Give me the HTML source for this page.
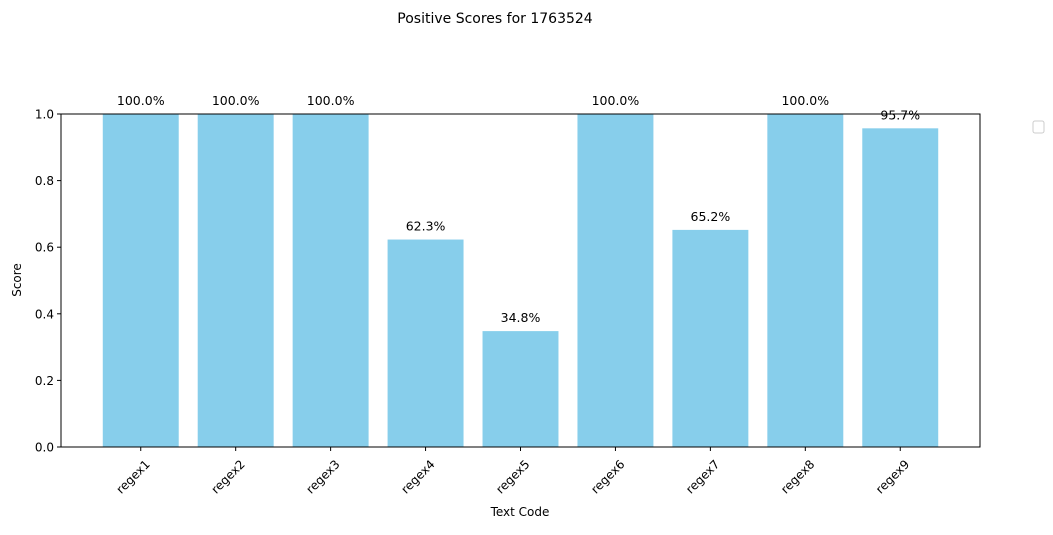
<!DOCTYPE html>
<html><head><meta charset="utf-8"><style>
body{margin:0;background:#fff;}
svg text{font-family:"DejaVu Sans","Liberation Sans",sans-serif;}
</style></head><body>
<svg id="chart" width="1053" height="530" xmlns="http://www.w3.org/2000/svg">
<text x="495" y="23" font-size="14" text-anchor="middle">Positive Scores for 1763524</text>
<g id="bars"></g>
<g id="axes"></g>
<rect x="1033" y="121" width="11" height="12" rx="2" fill="#fff" stroke="#ccc"/>
<text x="520" y="516" font-size="12" text-anchor="middle">Text Code</text>
<text transform="translate(21,280) rotate(-90)" font-size="12" text-anchor="middle">Score</text>
</svg>
<script>
const categories=["regex1","regex2","regex3","regex4","regex5","regex6","regex7","regex8","regex9"];
const scores=[1.0,1.0,1.0,0.623,0.348,1.0,0.652,1.0,0.957];
const yTicks=[0.0,0.2,0.4,0.6,0.8,1.0];
const NS="http://www.w3.org/2000/svg";
const L=61,R=980,T=114,B=447;
const xmin=-0.84,xmax=categories.length-1+0.84;
function xs(i){return L+(i-xmin)/(xmax-xmin)*(R-L);}
function ys(v){return B-v*(B-T);}
const unit=(R-L)/(xmax-xmin);
function mk(tag,attrs,parent){const e=document.createElementNS(NS,tag);for(const k in attrs)e.setAttribute(k,attrs[k]);parent.appendChild(e);return e;}
const bars=document.getElementById('bars'),axes=document.getElementById('axes');
categories.forEach((c,i)=>{
  const w=0.8*unit,x=xs(i)-w/2,y=ys(scores[i]);
  const r=mk('rect',{x:x,y:y,width:w,height:B-y,fill:'#87ceeb'},bars);
  
  
  const t=mk('text',{x:xs(i),y:y-9,'font-size':12.5,'text-anchor':'middle'},bars);
  t.textContent=(scores[i]*100).toFixed(1)+'%';
  
  
  mk('line',{x1:xs(i),x2:xs(i),y1:B,y2:B+4,stroke:'#000'},axes);
  const tl=mk('text',{'font-size':12,'text-anchor':'end',transform:`translate(${xs(i)+4},${B+12}) rotate(-45)`},axes);
  tl.setAttribute('dy','0.7em');
  tl.textContent=c;
  
  
});
yTicks.forEach(v=>{
  mk('line',{x1:L-4,x2:L,y1:ys(v),y2:ys(v),stroke:'#000'},axes);
  const t=mk('text',{x:L-7,y:ys(v)+4.5,'font-size':12,'text-anchor':'end'},axes);
  t.textContent=v.toFixed(1);
  
  
});
const fr=mk('rect',{x:L,y:T,width:R-L,height:B-T,fill:'none',stroke:'#000','stroke-width':1},axes);


</script>
</body></html>
